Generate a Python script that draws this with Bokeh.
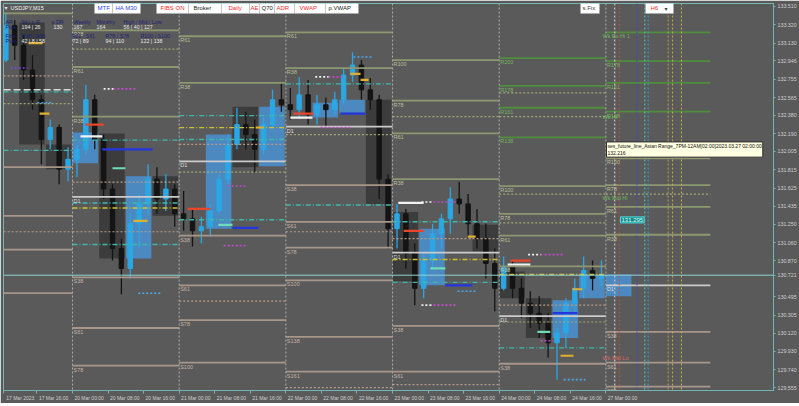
from bokeh.plotting import figure
from bokeh.models import (Range1d, FixedTicker, NumeralTickFormatter, ColumnDataSource,
                          LabelSet, Label, Span, BoxAnnotation)
from bokeh.embed import file_html
from bokeh.resources import INLINE
from bokeh.core.properties import value

# ---------------- data (time in trading hours from 17 Mar 00:00, weekend removed) ----------------
bar_start = list(range(8, 144, 2))          # 2-hour bars
op = [132.954,133.314,133.108,132.851,132.542,132.130,132.254,131.821,131.924,132.027,
      132.542,132.130,131.615,130.997,130.791,131.255,131.461,131.718,131.512,131.615,
      131.358,131.306,131.182,131.224,131.388,131.718,132.078,132.284,132.181,132.027,
      132.284,132.542,132.490,132.439,132.593,132.387,132.490,132.439,132.542,132.799,
      132.902,132.645,132.542,131.718,131.203,131.358,130.946,130.585,130.873,131.151,
      131.306,131.512,131.461,131.255,131.100,130.843,130.585,130.812,130.585,130.431,
      130.327,130.224,130.019,130.122,130.431,130.585,130.770,130.688]
hi = [133.448,133.366,133.211,133.005,132.593,132.336,132.284,132.048,132.078,132.696,
      132.593,132.181,131.666,131.100,131.358,131.563,131.872,131.842,131.769,131.666,
      131.594,131.409,131.327,131.461,131.769,132.181,132.459,132.418,132.336,132.357,
      132.645,132.727,132.665,132.779,132.748,132.593,132.562,132.624,132.871,133.036,
      132.954,132.768,132.593,131.769,131.461,131.409,131.049,130.946,131.255,131.358,
      131.635,131.687,131.563,131.409,131.255,130.997,130.915,130.873,130.688,130.554,
      130.503,130.327,130.173,130.482,130.688,130.915,130.873,130.873]
lo = [132.933,132.954,132.748,132.439,131.872,132.027,131.666,131.697,131.739,131.976,
      132.027,131.512,130.873,130.523,130.688,130.997,131.358,131.358,131.388,131.224,
      131.182,131.018,131.049,131.121,131.358,131.666,132.027,132.027,131.790,131.976,
      132.254,132.418,132.336,132.357,132.284,132.284,132.264,132.387,132.490,132.727,
      132.542,132.439,131.512,130.997,130.997,130.791,130.410,130.482,130.791,130.997,
      131.151,131.358,131.100,130.997,130.688,130.348,130.564,130.482,130.276,130.173,
      130.070,129.864,129.637,129.967,130.276,130.482,130.564,130.606]
cl = [133.314,133.108,132.851,132.542,132.130,132.254,131.821,131.924,132.027,132.542,
      132.130,131.615,130.997,130.791,131.255,131.461,131.718,131.512,131.615,131.358,
      131.306,131.182,131.224,131.388,131.718,132.078,132.284,132.181,132.027,132.284,
      132.542,132.490,132.439,132.593,132.387,132.490,132.439,132.542,132.799,132.902,
      132.645,132.542,131.718,131.203,131.358,130.946,130.585,130.873,131.151,131.306,
      131.512,131.461,131.255,131.100,130.843,130.585,130.812,130.585,130.431,130.327,
      130.224,130.019,130.122,130.431,130.585,130.770,130.688,130.721]

# session boxes
box_start = [12, 18, 24, 30, 36, 42, 54, 60, 66, 78, 84, 90, 96, 102, 114, 120, 126, 132, 138, 144]
box_kind = ["dark", "dark", "blue", "dark", "blue", "dark", "blue", "dark", "blue", "blue",
            "blue", "dark", "dark", "blue", "dark", "dark", "dark", "blue", "blue", "blue"]
box_top = [133.345, 132.078, 132.202, 132.191, 131.749, 131.749, 132.181, 132.470, 132.470, 132.511,
           132.542, 132.542, 131.378, 131.203, 131.244, 130.760, 130.482, 130.461, 130.719, 130.729]
box_bot = [132.078, 131.821, 131.883, 130.894, 130.894, 131.337, 131.203, 131.842, 131.852, 132.357,
           132.408, 131.461, 130.657, 130.616, 130.966, 130.482, 130.070, 130.070, 130.482, 130.503]

# daily pivot / fibo levels
day_start = [8.5, 24, 48, 72, 96, 120, 144]
day_end = [24, 48, 72, 96, 120, 144, 167.5]
lv_day = [0, 0, 0, 0, 0,
          1, 1, 1, 1, 1, 1, 1,
          2, 2, 2, 2, 2, 2, 2,
          3, 3, 3, 3, 3, 3, 3, 3, 3,
          4, 4, 4, 4, 4, 4, 4,
          5, 5, 5, 5, 5, 5, 5, 5, 5, 5,
          6, 6, 6, 6, 6, 6, 6, 6, 6, 6, 6, 6]
lv_name = ["", "", "", "", "",
           "R78", "R61", "R38", "D1", "S38", "S61", "S78",
           "R61", "R38", "D1", "S38", "S61", "S78", "S100",
           "R61", "R38", "D1", "S38", "S61", "S78", "S100", "S138", "S161",
           "R100", "R78", "R61", "R38", "D1", "S38", "S61",
           "R200", "R178", "R161", "R138", "R100", "R78", "R61", "R38", "D1", "S38",
           "", "R178", "R161", "R138", "R100", "R78", "R61", "R38", "D1", "S38", "S61", "S78"]
lv_kind = ["R", "S", "S", "S", "S",
           "R", "R", "R", "D", "S", "S", "S",
           "R", "R", "D", "S", "S", "S", "S",
           "R", "R", "D", "S", "S", "S", "S", "S", "S",
           "R", "R", "R", "R", "D", "S", "S",
           "X", "X", "X", "X", "R", "R", "R", "R", "D", "S",
           "X", "X", "X", "X", "R", "R", "R", "R", "D", "S", "S", "S"]
lv_price = [133.438, 131.842, 131.337, 130.987, 130.534,
            133.263, 132.882, 132.367, 131.533, 130.698, 130.173, 129.782,
            133.201, 132.717, 131.903, 131.131, 130.616, 130.255, 129.813,
            133.242, 132.871, 132.264, 131.656, 131.275, 131.007, 130.668, 130.081, 129.720,
            132.954, 132.532, 132.192, 131.718, 130.956, 130.194, 129.720,
            132.974, 132.686, 132.459, 132.151, 131.646, 131.358, 131.131, 130.812, 130.297, 129.802,
            133.242, 132.943, 132.717, 132.418, 131.934, 131.656, 131.430, 131.141, 130.616, 130.132, 129.813, 129.565]

# dotted / dash-dot intraday levels: (day, price)
teal_day = [0, 0, 1, 1, 1, 2, 2, 2, 3, 3, 4, 4, 5]
teal_p = [132.624, 132.017, 132.123, 131.471, 131.039, 132.377, 132.130, 131.296, 132.707, 131.450, 131.275, 130.647, 129.967]
yel_day = [1, 2, 4, 5]
yel_p = [131.419, 132.253, 130.884, 130.729]
tan_day = [0, 0, 1, 1, 2, 2, 3, 3, 4, 4, 5]
tan_p = [132.789, 131.172, 131.687, 131.172, 132.078, 130.451, 131.172, 129.555, 131.100, 129.586, 130.410]
olv_day = [0, 1, 2, 3, 4, 5, 5, 5, 5, 5, 6]
olv_p = [132.501, 133.067, 131.790, 132.181, 132.367, 132.614, 132.367, 131.265, 130.235, 131.563, 131.563]
wht_day = [0]
wht_p = [132.645]

# short session markers (x0, x1 in hours, price)
mk_x0 = [26.9, 49.9, 73.7, 98.5, 122.5, 25.8, 97.3, 121.9, 73.0, 30.7, 60.0, 84.3, 107.9, 132.0,
         33.0, 56.8, 104.5, 128.6, 16.6, 37.7, 65.2, 86.5, 88.8, 112.9, 136.5, 133.8, 14.1]
mk_x1 = [31.0, 55.0, 78.2, 103.0, 127.0, 30.7, 103.0, 127.0, 78.0, 42.0, 65.8, 89.9, 114.0, 137.6,
         35.9, 60.0, 107.9, 131.5, 18.8, 40.9, 67.0, 88.8, 90.6, 114.7, 138.7, 136.7, 17.3]
mk_p = [132.284, 131.409, 132.398, 131.182, 130.873, 132.161, 131.471, 130.832, 132.357, 132.027, 131.213,
        132.398, 130.616, 130.327, 131.831, 131.244, 130.791, 130.132, 132.398, 131.285, 132.254, 132.810,
        132.748, 131.121, 130.575, 129.885, 133.129]
mk_type = ["red"] * 5 + ["white"] * 4 + ["blue"] * 5 + ["mint"] * 4 + ["gold"] * 9

dm_x0 = [33.2, 58.9, 58.0, 81.6, 79.8, 105.2, 105.2, 129.3, 129.3, 31.0, 78.6, 102.5, 102.5, 126.5,
         10.1, 16.1, 87.2, 110.6, 134.5, 38.8]
dm_x1 = [38.6, 62.9, 62.9, 84.7, 86.5, 110.6, 110.6, 134.5, 132.2, 33.2, 81.6, 105.2, 105.2, 129.3,
         13.9, 19.7, 91.5, 115.1, 139.4, 43.8]
dm_p = [132.655, 131.646, 131.028, 132.779, 132.254, 131.481, 130.410, 130.935, 130.040, 132.655, 132.779,
        131.481, 130.410, 130.935, 132.871, 132.511, 132.985, 130.554, 129.637, 130.534]
dm_type = ["magenta"] * 9 + ["white"] * 5 + ["purple"] + ["lblue"] * 5

# future session verticals
vl_h = [146, 147, 151, 152.75, 153.5, 158, 159, 161]
vl_color = ["#d8d8d8", "#c85038", "#3a48c8", "#48c8c8", "#4898d8", "#c89a48", "#c8a848", "#c8b040"]

wk_text = ["Wk Ex Hi 1", "Wk Hi", "Wk Mid Hi", "Wk Mid Lo"]
wk_p = [133.201, 132.367, 131.522, 129.864]
wk_color = ["#6cb85a", "#6cb85a", "#6cb85a", "#d86a6a"]

price_ticks = [133.510, 133.320, 133.130, 132.946, 132.755, 132.565, 132.380, 132.190, 132.005, 131.815,
               131.625, 131.435, 131.250, 131.060, 130.870, 130.721, 130.495, 130.305, 130.120, 129.930,
               129.740, 129.555]
time_ticks = [8.5, 16, 24, 32, 40, 48, 56, 64, 72, 80, 88, 96, 104, 112, 120, 128, 136, 144]
time_labels = ["17 Mar 2023", "17 Mar 16:00", "20 Mar 00:00", "20 Mar 08:00", "20 Mar 16:00",
               "21 Mar 00:00", "21 Mar 08:00", "21 Mar 16:00", "22 Mar 00:00", "22 Mar 08:00",
               "22 Mar 16:00", "23 Mar 00:00", "23 Mar 08:00", "23 Mar 16:00", "24 Mar 00:00",
               "24 Mar 08:00", "24 Mar 16:00", "27 Mar 00:00"]
marked_level = 131.295
tooltip_value = 132.216
last_price = cl[-1]

# ---------------- styling / layout helpers ----------------
BG = "#5a5a5a"
TEAL = "#72b4b4"
FONT = "Liberation Sans"
LABEL_SHIFT = 3.75   # MT4 prints time labels to the right of their tick: centre of label in hours


def X2h(X):
    return 24 + (X - 72) / 4.445


def Y2p(Y):
    return 133.5718 - 0.010299 * Y


p = figure(width=799, height=403, output_backend="svg", toolbar_location=None,
           x_range=Range1d(X2h(3), X2h(773)), y_range=Range1d(Y2p(393), Y2p(3)),
           y_axis_location="right", x_axis_location="below",
           min_border_left=3, min_border_top=3, min_border_right=26, min_border_bottom=10,
           background_fill_color=BG, border_fill_color=BG,
           outline_line_color=TEAL, outline_line_width=1)
p.grid.visible = False

ya = p.yaxis[0]
ya.ticker = FixedTicker(ticks=price_ticks)
ya.formatter = NumeralTickFormatter(format="0.000")
ya.major_label_text_font = FONT
ya.major_label_text_font_size = "5.3px"
ya.major_label_text_color = "#cfcfcf"
ya.axis_line_color = TEAL
ya.major_tick_line_color = TEAL
ya.major_tick_out = 2
ya.major_tick_in = 0
ya.minor_tick_out = 0
ya.minor_tick_in = 0
ya.major_label_standoff = 2

label_pos = [t + LABEL_SHIFT for t in time_ticks]
xa = p.xaxis[0]
xa.ticker = FixedTicker(ticks=label_pos, minor_ticks=time_ticks)
xa.major_label_overrides = {lp: lab for lp, lab in zip(label_pos, time_labels)}
xa.major_label_text_font = FONT
xa.major_label_text_font_size = "5px"
xa.major_label_text_color = "#cfcfcf"
xa.axis_line_color = TEAL
xa.major_tick_out = 0
xa.major_tick_in = 0
xa.minor_tick_line_color = TEAL
xa.minor_tick_out = 3
xa.minor_tick_in = 0
xa.major_label_standoff = 1

# session boxes
bsrc = ColumnDataSource(dict(
    l=box_start, r=[s + 5.75 for s in box_start], t=box_top, b=box_bot,
    fc=["#4a92d2" if k == "blue" else "#000000" for k in box_kind],
    fa=[0.85 if k == "blue" else 0.33 for k in box_kind]))
p.quad(left="l", right="r", top="t", bottom="b", source=bsrc, fill_color="fc", fill_alpha="fa",
       line_color=None)

# candles
col = ["#2aa7e4" if c >= o else "#141414" for o, c in zip(op, cl)]
csrc = ColumnDataSource(dict(
    x=[s + 1 for s in bar_start], h=hi, l=lo,
    top=[max(a, b) for a, b in zip(op, cl)], bot=[min(a, b) for a, b in zip(op, cl)], col=col))
p.segment(x0="x", y0="h", x1="x", y1="l", source=csrc, line_color="col", line_width=1.3)
p.vbar(x="x", width=1.0, top="top", bottom="bot", source=csrc, fill_color="col", line_color="col")

# day separators
for d in day_start[1:]:
    p.add_layout(Span(location=d, dimension="height", line_color="#ababab", line_dash="2 2", line_width=1))
for h, c in zip(vl_h, vl_color):
    p.add_layout(Span(location=h, dimension="height", line_color=c, line_dash="2 2", line_width=1))


# dotted intraday levels
def dotted(days, prices, color, dash, width=1.2):
    src = ColumnDataSource(dict(x0=[day_start[d] for d in days], x1=[day_end[d] for d in days],
                                y=prices))
    p.segment(x0="x0", y0="y", x1="x1", y1="y", source=src, line_color=color, line_dash=dash,
              line_width=width)


dotted(tan_day, tan_p, "#b59c8c", "2 2")
dotted(olv_day, olv_p, "#a2a878", "2 2")
dotted(teal_day, teal_p, "#3fb8ac", "5 2 1 2", 1.4)
dotted(yel_day, yel_p, "#cfc232", "5 2 1 2", 1.4)
dotted(wht_day, wht_p, "#dcdcdc", "7 3", 1.6)

# main levels
LCOL = {"R": "#8e9870", "S": "#a8968a", "D": "#cbcbcb", "X": "#4f8e3c"}
TCOL = {"R": "#b9bf98", "S": "#c6b2a6", "D": "#dedede", "X": "#78b45e"}
lsrc = ColumnDataSource(dict(
    x0=[day_start[d] for d in lv_day], x1=[day_end[d] for d in lv_day], y=lv_price,
    lc=[LCOL[k] for k in lv_kind]))
p.segment(x0="x0", y0="y", x1="x1", y1="y", source=lsrc, line_color="lc", line_width=1.8)

lab_idx = [i for i, n in enumerate(lv_name) if n]
labsrc = ColumnDataSource(dict(
    x=[day_start[lv_day[i]] for i in lab_idx], y=[lv_price[i] for i in lab_idx],
    t=[lv_name[i] for i in lab_idx], c=[TCOL[lv_kind[i]] for i in lab_idx]))
p.add_layout(LabelSet(x="x", y="y", text="t", source=labsrc, text_color="c",
                      text_font=value(FONT), text_font_size="5.5px", text_baseline="top",
                      x_offset=1, y_offset=-1))

# current price line
p.add_layout(Span(location=last_price, dimension="width", line_color="#8fd2d2", line_width=1))

# session markers
MC = {"red": "#e8452c", "white": "#f2f2f2", "blue": "#2436e0", "mint": "#6fdcb4", "gold": "#e0b030",
      "magenta": "#c04cc8", "purple": "#7a4ae8", "lblue": "#4aa8e8"}
msrc = ColumnDataSource(dict(x0=mk_x0, x1=mk_x1, y=mk_p, c=[MC[t] for t in mk_type]))
p.segment(x0="x0", y0="y", x1="x1", y1="y", source=msrc, line_color="c", line_width=2.2)
dsrc = ColumnDataSource(dict(x0=dm_x0, x1=dm_x1, y=dm_p, c=[MC[t] for t in dm_type]))
p.segment(x0="x0", y0="y", x1="x1", y1="y", source=dsrc, line_color="c", line_width=1.6, line_dash="2 2")

# weekly tags
wsrc = ColumnDataSource(dict(x=[X2h(602)] * len(wk_text), y=wk_p, t=wk_text, c=wk_color))
p.add_layout(LabelSet(x="x", y="y", text="t", source=wsrc, text_color="c", text_font=value(FONT),
                      text_font_size="5.5px", text_baseline="middle"))

# marked level tag and current price tag (inside plot edge)
p.add_layout(Label(x=X2h(620), y=marked_level, text=f"{marked_level:.3f}", text_baseline="middle",
                   text_font=FONT, text_font_size="6px", text_color="#d8ffff",
                   background_fill_color="#178a8a", border_line_color="#4fe0e0", padding=1))

# hover tooltip captured in the screenshot
p.add_layout(Label(x=X2h(606), y=Y2p(142.5), text_baseline="top",
                   text="ses_future_line_Asian Range_7PM-12AM[02:00]2023.03.27 02:00:00\n" + f"{tooltip_value:.3f}",
                   text_font=FONT, text_font_size="5px", text_color="#101010",
                   background_fill_color="#ffffe1", border_line_color="#303030", padding=1))

# symbol title
p.add_layout(Label(x=X2h(4), y=Y2p(7.5), text="\u25be", text_baseline="middle", text_font="DejaVu Sans",
                   text_font_size="6px", text_color="#e0e0e0"))
p.add_layout(Label(x=X2h(10), y=Y2p(7.5), text="USDJPY,M15", text_baseline="middle", text_font=FONT,
                   text_font_size="5.5px", text_color="#f0f0f0"))

# info panel
HDR = "#1a2272"
VAL = "#e6e6e6"
panel = [
    (5, 22, "AR", HDR), (21, 22, "9d / c.R", HDR), (51, 22, "p.DR", HDR), (73, 22, "Weekly", HDR),
    (96, 22, "Monthly", HDR), (123, 22, "High / Mid / Low", HDR),
    (5, 27, "Pips", HDR), (21, 27, "194 | 26", VAL), (53, 27, "130", VAL), (73, 27, "167", VAL),
    (96, 27, "164", VAL), (123, 27, "56  |  40  |  127", VAL),
    (5, 36, "Fibo", HDR), (21, 36, "R38 / S38", HDR), (71, 36, "R61 / S61", HDR), (105, 36, "R78 / S78", HDR),
    (140, 36, "R100 / S100", HDR),
    (5, 41, "Pips", HDR), (21, 41, "42  |  8  |  58", VAL), (72, 41, "72  |  89", VAL),
    (105, 41, "94  |  110", VAL), (140, 41, "122  |  138", VAL),
]
for X, Y, t, c in panel:
    p.add_layout(Label(x=X2h(X), y=Y2p(Y), text=t, text_baseline="middle", text_font=FONT,
                       text_font_size="5.3px", text_color=c))

# toolbar buttons drawn on the chart
buttons = [
    (94, 112, 97, "MTF", "#2a44ff"), (112, 140, 115, "HA M30", "#2a44ff"),
    (156, 188, 160, "FIBS ON", "#ff2a2a"), (188, 221, 193, "Broker", "#202020"),
    (221, 249, 228, "Daily", "#ff2a2a"), (249, 259, 250, "AE", "#ff2a2a"),
    (259, 274, 261, "Q70", "#202020"), (274, 294, 276, "ADR", "#ff2a2a"),
    (294, 325, 299, "VWAP", "#ff2a2a"), (325, 358, 328, "p.VWAP", "#202020"),
    (580, 599, 582, "s.Fix", "#404040"), (645, 673, 650, "H6", "#ff2a2a"),
]
for X0, X1, XT, t, c in buttons:
    p.add_layout(BoxAnnotation(left=X2h(X0), right=X2h(X1), top=Y2p(2), bottom=Y2p(13),
                               fill_color="#ffffff", fill_alpha=1, line_color="#a8a8a8", line_width=1))
    p.add_layout(Label(x=X2h(XT), y=Y2p(7.8), text=t, text_baseline="middle", text_font=FONT,
                       text_font_size="6px", text_color=c))
p.add_layout(Label(x=X2h(664), y=Y2p(7.8), text="\u25be", text_baseline="middle", text_font="DejaVu Sans",
                   text_font_size="6px", text_color="#404040"))

open("out.html", "w").write(file_html(p, INLINE))
